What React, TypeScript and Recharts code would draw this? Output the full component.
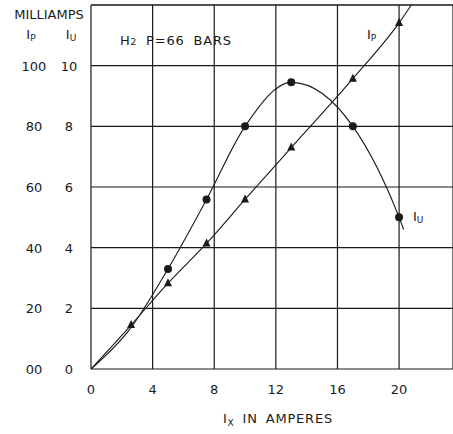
import React from "react";
import { LineChart, Line, XAxis, YAxis, CartesianGrid, ReferenceLine } from "recharts";

// Ix (amperes) values and readings
const ipX = [0, 2.6, 5, 7.5, 10, 13, 17, 20, 20.8];
const ipY = [0, 1.45, 2.83, 4.14, 5.59, 7.3, 9.57, 11.41, 12];
const ipMarked = [false, true, true, true, true, true, true, true, false];

const iuX = [0, 2.5, 5, 7.5, 10, 13, 17, 20, 20.3];
const iuY = [0, 1.3, 3.3, 5.59, 8.0, 9.45, 8.0, 5.0, 4.6];
const iuMarked = [false, false, true, true, true, true, true, true, false];

const xTicks = [0, 4, 8, 12, 16, 20];
const yTicks = [0, 2, 4, 6, 8, 10, 12];
const ipTickLabels = ["00", "20", "40", "60", "80", "100", ""];
const iuTickLabels = ["0", "2", "4", "6", "8", "10", ""];

const ipData = ipX.map((x, i) => ({ x, y: ipY[i], m: ipMarked[i] }));
const iuData = iuX.map((x, i) => ({ x, y: iuY[i], m: iuMarked[i] }));

const INK = "#1a1a1a";
const FONT = "'DejaVu Sans', 'Noto Sans', sans-serif";

const CircleDot = (props: any) => {
  const { cx, cy, payload, index } = props;
  if (!payload || !payload.m) return <g key={`c-${index}`} />;
  return <circle key={`c-${index}`} cx={cx} cy={cy} r={4} fill={INK} stroke="none" />;
};

const TriDot = (props: any) => {
  const { cx, cy, payload, index } = props;
  if (!payload || !payload.m) return <g key={`t-${index}`} />;
  const s = 4;
  return (
    <polygon
      key={`t-${index}`}
      points={`${cx},${cy - s - 1} ${cx - s},${cy + s - 1} ${cx + s},${cy + s - 1}`}
      fill={INK}
    />
  );
};

const YTick = (props: any) => {
  const { y, payload } = props;
  const i = yTicks.indexOf(payload.value);
  return (
    <g>
      <text x={34} y={y + 5} textAnchor="middle" fontSize={13} fill={INK} fontFamily={FONT}>
        {ipTickLabels[i]}
      </text>
      <text x={69} y={y + 5} textAnchor="middle" fontSize={13} fill={INK} fontFamily={FONT}>
        {iuTickLabels[i]}
      </text>
    </g>
  );
};

const XTick = (props: any) => {
  const { x, payload } = props;
  return (
    <text x={x} y={394} textAnchor="middle" fontSize={13} fill={INK} fontFamily={FONT}>
      {payload.value}
    </text>
  );
};

export default function App() {
  return (
    <div style={{ position: "absolute", left: 0, top: 0, width: 453, height: 434, background: "#fff" }}>
      <LineChart width={453} height={434} margin={{ top: 5, right: 0, bottom: 35, left: 0 }}>
        <CartesianGrid stroke={INK} strokeWidth={1.2} />
        <XAxis
          type="number"
          dataKey="x"
          domain={[0, 23.5]}
          ticks={xTicks}
          height={30}
          axisLine={false}
          tickLine={false}
          tick={<XTick />}
          allowDataOverflow
        />
        <YAxis
          type="number"
          dataKey="y"
          domain={[0, 12]}
          ticks={yTicks}
          width={91}
          axisLine={false}
          tickLine={false}
          tick={<YTick />}
          interval={0}
        />
        <ReferenceLine y={12} stroke={INK} strokeWidth={1.2} />
        <Line
          data={ipData}
          dataKey="y"
          type="monotone"
          stroke={INK}
          strokeWidth={1.1}
          dot={TriDot}
          activeDot={false}
          isAnimationActive={false}
        />
        <Line
          data={iuData}
          dataKey="y"
          type="monotone"
          stroke={INK}
          strokeWidth={1.1}
          dot={CircleDot}
          activeDot={false}
          isAnimationActive={false}
        />
      </LineChart>
      <svg
        width={453}
        height={434}
        style={{ position: "absolute", left: 0, top: 0, pointerEvents: "none" }}
        fontFamily={FONT}
        fill={INK}
      >
        <text x={49} y={19} textAnchor="middle" fontSize={13}>MILLIAMPS</text>
        <text x={31} y={39} textAnchor="middle" fontSize={13}>
          I<tspan fontSize={9} dy={2}>P</tspan>
        </text>
        <text x={71} y={39} textAnchor="middle" fontSize={13}>
          I<tspan fontSize={9} dy={2}>U</tspan>
        </text>
        <text x={120} y={45} fontSize={13} letterSpacing={0.8}>
          H<tspan fontSize={9}>2</tspan>
          <tspan dx={9}>P=66</tspan>
          <tspan dx={9}>BARS</tspan>
        </text>
        <text x={367} y={39} fontSize={13}>
          I<tspan fontSize={9} dy={2}>P</tspan>
        </text>
        <text x={413} y={221} fontSize={13}>
          I<tspan fontSize={9} dy={2}>U</tspan>
        </text>
        <text x={278} y={423} textAnchor="middle" fontSize={13} letterSpacing={0.8}>
          I<tspan fontSize={9} dy={3}>X</tspan>
          <tspan dy={-3} dx={8}>IN</tspan>
          <tspan dx={8}>AMPERES</tspan>
        </text>
      </svg>
    </div>
  );
}
